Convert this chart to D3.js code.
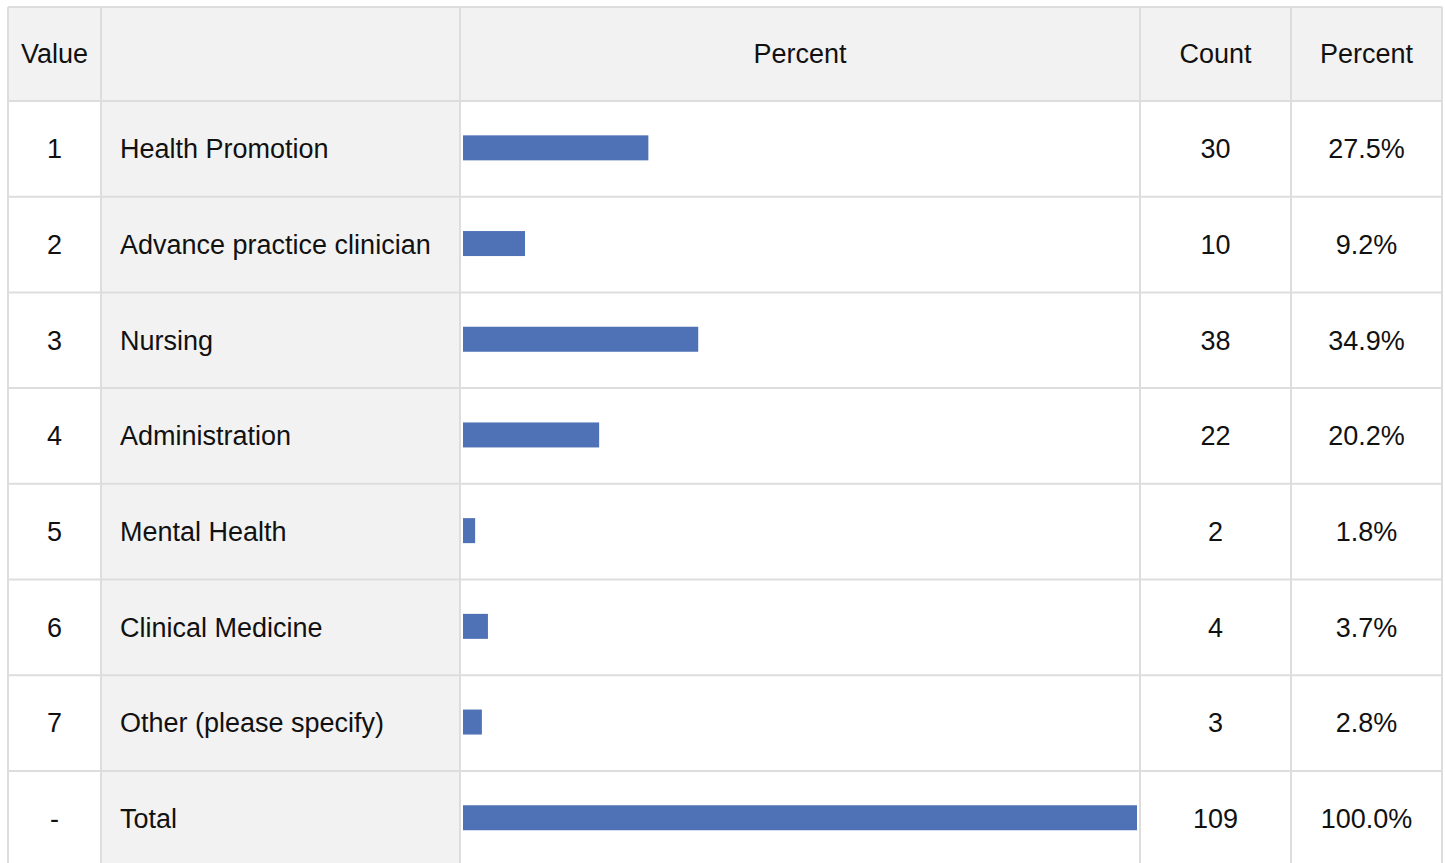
<!DOCTYPE html>
<html>
<head>
<meta charset="utf-8">
<script src="https://cdn.jsdelivr.net/npm/d3@7"></script>
<style>
  body { margin: 0; background: #fff; overflow: hidden; }
  svg { display: block; font-family: "Liberation Sans", Arial, sans-serif; }
</style>
</head>
<body>
<svg id="chart" width="1445" height="863"></svg>
<script>
// table data
const values = ["1", "2", "3", "4", "5", "6", "7", "-"];
const labels = ["Health Promotion", "Advance practice clinician", "Nursing", "Administration",
                "Mental Health", "Clinical Medicine", "Other (please specify)", "Total"];
const counts = [30, 10, 38, 22, 2, 4, 3, 109];
const percents = [27.5, 9.2, 34.9, 20.2, 1.8, 3.7, 2.8, 100.0];
const headers = ["Value", "", "Percent", "Count", "Percent"];

const width = 1445;
const height = 863;
const gridColor = "#dddddd";
const shade = "#f2f2f2";
const fontSize = 27;

// column edges
const cols = [8, 101, 460, 1140, 1291, 1442];
const headerTop = 7;
const headerBottom = 101;
const rowH = 95.7;

const svg = d3.select("#chart");

const yScale = d3.scaleBand()
    .domain(d3.range(values.length))
    .range([headerBottom, headerBottom + rowH * values.length])
    .paddingInner(0);

const xScale = d3.scaleLinear()
    .domain([0, 100])
    .range([cols[2] + 3, cols[3] - 3]);

// header background
svg.append("rect")
    .attr("x", cols[0]).attr("y", headerTop)
    .attr("width", cols[5] - cols[0]).attr("height", headerBottom - headerTop)
    .attr("fill", shade);

// label column background
svg.append("rect")
    .attr("x", cols[1]).attr("y", headerBottom)
    .attr("width", cols[2] - cols[1]).attr("height", height - headerBottom)
    .attr("fill", shade);

// header text
svg.append("g").selectAll("text")
    .data(headers)
    .join("text")
    .attr("x", (d, i) => (cols[i] + cols[i + 1]) / 2)
    .attr("y", (headerTop + headerBottom) / 2)
    .attr("dy", "0.35em")
    .attr("text-anchor", "middle")
    .attr("font-size", fontSize)
    .attr("fill", "#111")
    .text(d => d);

const rows = svg.append("g").selectAll("g")
    .data(values.map((v, i) => ({
        value: v, label: labels[i], count: counts[i], pct: percents[i], i
    })))
    .join("g")
    .attr("transform", d => `translate(0, ${yScale(d.i)})`);

const mid = yScale.bandwidth() / 2;

rows.append("rect")
    .attr("x", xScale(0))
    .attr("y", mid - 13.5)
    .attr("width", d => xScale(d.pct) - xScale(0))
    .attr("height", 25)
    .attr("fill", "#4f71b6");

rows.append("text")
    .attr("x", (cols[0] + cols[1]) / 2)
    .attr("y", mid).attr("dy", "0.35em")
    .attr("text-anchor", "middle")
    .attr("font-size", fontSize).attr("fill", "#111")
    .text(d => d.value);

rows.append("text")
    .attr("x", cols[1] + 19)
    .attr("y", mid).attr("dy", "0.35em")
    .attr("font-size", fontSize).attr("fill", "#111")
    .text(d => d.label);

rows.append("text")
    .attr("x", (cols[3] + cols[4]) / 2)
    .attr("y", mid).attr("dy", "0.35em")
    .attr("text-anchor", "middle")
    .attr("font-size", fontSize).attr("fill", "#111")
    .text(d => d.count);

rows.append("text")
    .attr("x", (cols[4] + cols[5]) / 2)
    .attr("y", mid).attr("dy", "0.35em")
    .attr("text-anchor", "middle")
    .attr("font-size", fontSize).attr("fill", "#111")
    .text(d => d3.format(".1f")(d.pct) + "%");

// grid lines
const grid = svg.append("g")
    .attr("stroke", gridColor)
    .attr("stroke-width", 2);

const hLines = [headerTop, headerBottom].concat(d3.range(1, values.length).map(i => yScale(i)));
grid.selectAll("line.h")
    .data(hLines)
    .join("line")
    .attr("class", "h")
    .attr("x1", cols[0]).attr("x2", cols[5])
    .attr("y1", d => d).attr("y2", d => d);

grid.selectAll("line.v")
    .data(cols)
    .join("line")
    .attr("class", "v")
    .attr("x1", d => d).attr("x2", d => d)
    .attr("y1", headerTop).attr("y2", height);
</script>
</body>
</html>
